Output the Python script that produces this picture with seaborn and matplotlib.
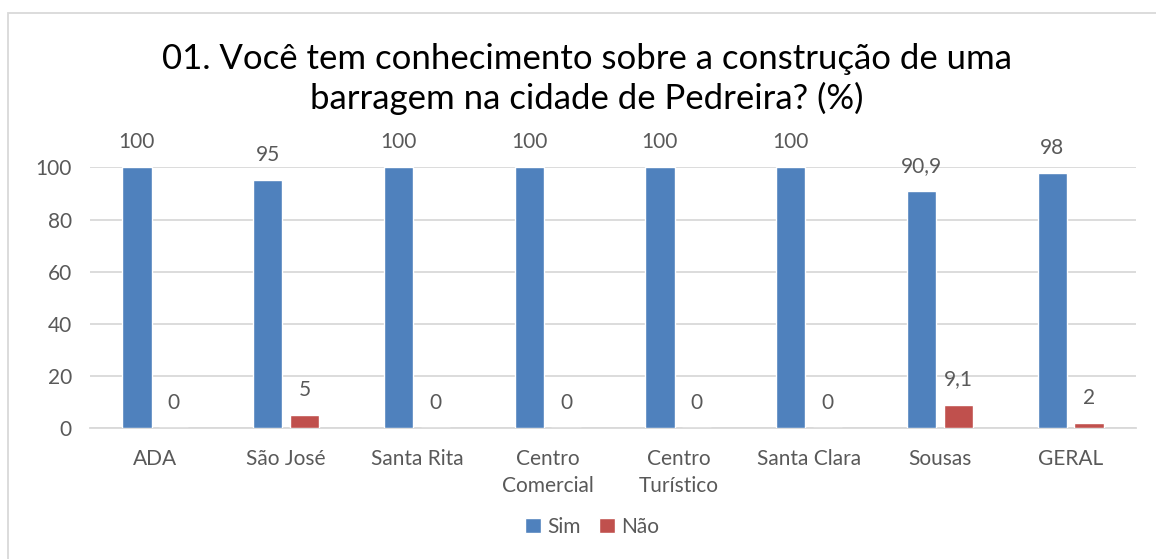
import pandas as pd
import matplotlib.pyplot as plt
import matplotlib.patches as mpatches
import seaborn as sns

# data
categories = ['ADA', 'São José', 'Santa Rita', 'Centro\nComercial',
              'Centro\nTurístico', 'Santa Clara', 'Sousas', 'GERAL']
sim = [100, 95, 100, 100, 100, 100, 90.9, 98]
nao = [0, 5, 0, 0, 0, 0, 9.1, 2]
series = ['Sim', 'Não']
y_ticks = [0, 20, 40, 60, 80, 100]

df = pd.DataFrame({
    'Bairro': categories * 2,
    'Resposta': [series[0]] * len(categories) + [series[1]] * len(categories),
    'Valor': sim + nao,
})

sns.set_style("white")
plt.rcParams['font.family'] = ['Lato', 'DejaVu Sans']
txt = '#595959'
grid = '#D9D9D9'

fig = plt.figure(figsize=(11.56, 5.59), dpi=100)
ax = fig.add_axes([90 / 1156, 1 - 428.3 / 559, 1046 / 1156, 261 / 559])

sns.barplot(data=df, x='Bairro', y='Valor', hue='Resposta', ax=ax,
            palette=['#4F81BD', '#C0504D'], width=0.564, gap=0.21,
            saturation=1, legend=True, zorder=3)

ax.set_ylim(0, 100)
ax.set_xlim(-0.5, len(categories) - 0.5)
ax.set_yticks(y_ticks)
ax.yaxis.grid(True, color=grid, linewidth=1.3, zorder=0)
ax.set_axisbelow(True)
for s in ['top', 'right', 'left']:
    ax.spines[s].set_visible(False)
ax.spines['bottom'].set_color(grid)
ax.spines['bottom'].set_linewidth(1.3)
ax.tick_params(axis='both', length=0, labelsize=15, colors=txt)
ax.tick_params(axis='x', pad=15)
ax.tick_params(axis='y', pad=13)
ax.set_xlabel('')
ax.set_ylabel('')
for lab in ax.get_xticklabels():
    lab.set_linespacing(1.4)
    lab.set_verticalalignment('top')

# value labels
for cont in ax.containers:
    for bar in cont:
        v = bar.get_height()
        s = f'{v:g}'.replace('.', ',')
        ax.annotate(s, (bar.get_x() + bar.get_width() / 2, v),
                    xytext=(0, 25), textcoords='offset pixels',
                    ha='center', va='center', fontsize=15, color=txt)

ax.legend(loc='center', bbox_to_anchor=(0.48, -0.378), ncol=2,
          frameon=False, fontsize=15, labelcolor=txt, handlelength=0.75,
          handleheight=0.75, handletextpad=0.3, columnspacing=0.9)

fig.text(0.508, 1 - 79 / 559, '01. Você tem conhecimento sobre a construção de uma\nbarragem na cidade de Pedreira? (%)',
         ha='center', va='center', fontsize=25, color='black', linespacing=1.25)

fig.patches.append(mpatches.Rectangle((8 / 1156, -0.05), 1.1, 1 - 13 / 559 + 0.05,
                                      transform=fig.transFigure, fill=False,
                                      edgecolor=grid, linewidth=1.3))

fig.savefig('out.png', dpi=100)
